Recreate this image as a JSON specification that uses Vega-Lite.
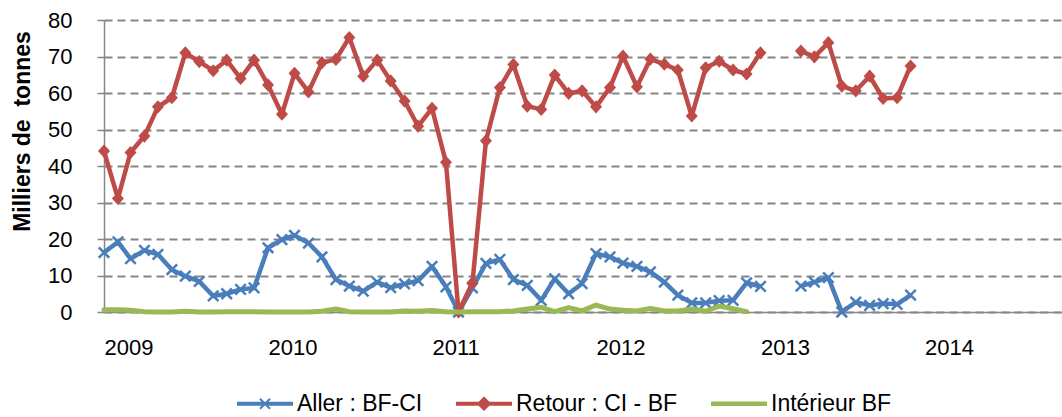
{
  "$schema": "https://vega.github.io/schema/vega-lite/v6.json",
  "autosize": {"type": "none"},
  "width": 958,
  "height": 292,
  "padding": {"left": 104, "top": 20, "right": 0, "bottom": 105},
  "background": "white",
  "config": {
    "view": {"stroke": null},
    "font": "Liberation Sans"
  },
  "data": {
    "values": [
      {"m": "2009-01-01", "A": 16.3, "R": 44.1, "I": 0.6},
      {"m": "2009-02-01", "A": 19.2, "R": 31.1, "I": 0.6},
      {"m": "2009-03-01", "A": 14.6, "R": 43.7, "I": 0.5},
      {"m": "2009-04-01", "A": 16.9, "R": 48.2, "I": 0.1},
      {"m": "2009-05-01", "A": 15.8, "R": 56.2, "I": 0},
      {"m": "2009-06-01", "A": 11.6, "R": 58.7, "I": 0},
      {"m": "2009-07-01", "A": 9.8, "R": 71.0, "I": 0.2},
      {"m": "2009-08-01", "A": 8.4, "R": 68.6, "I": 0},
      {"m": "2009-09-01", "A": 4.4, "R": 66.1, "I": 0},
      {"m": "2009-10-01", "A": 5.0, "R": 69.0, "I": 0.1},
      {"m": "2009-11-01", "A": 6.2, "R": 64.0, "I": 0.1},
      {"m": "2009-12-01", "A": 6.6, "R": 69.0, "I": 0.1},
      {"m": "2010-01-01", "A": 17.6, "R": 62.2, "I": 0},
      {"m": "2010-02-01", "A": 19.8, "R": 54.2, "I": 0},
      {"m": "2010-03-01", "A": 21.0, "R": 65.4, "I": 0},
      {"m": "2010-04-01", "A": 18.9, "R": 60.3, "I": 0},
      {"m": "2010-05-01", "A": 15.1, "R": 68.3, "I": 0.2},
      {"m": "2010-06-01", "A": 8.9, "R": 69.2, "I": 0.8},
      {"m": "2010-07-01", "A": 7.1, "R": 75.2, "I": 0.1},
      {"m": "2010-08-01", "A": 5.7, "R": 64.6, "I": 0},
      {"m": "2010-09-01", "A": 8.2, "R": 69.0, "I": 0},
      {"m": "2010-10-01", "A": 6.7, "R": 63.3, "I": 0},
      {"m": "2010-11-01", "A": 7.7, "R": 57.8, "I": 0.3},
      {"m": "2010-12-01", "A": 8.6, "R": 50.9, "I": 0.2},
      {"m": "2011-01-01", "A": 12.5, "R": 55.8, "I": 0.4},
      {"m": "2011-02-01", "A": 6.9, "R": 41.0, "I": 0.1},
      {"m": "2011-03-01", "A": 0, "R": 0, "I": 0},
      {"m": "2011-04-01", "A": 6.6, "R": 8.0, "I": 0.1},
      {"m": "2011-05-01", "A": 13.3, "R": 46.9, "I": 0.1},
      {"m": "2011-06-01", "A": 14.4, "R": 61.5, "I": 0.1},
      {"m": "2011-07-01", "A": 8.9, "R": 67.8, "I": 0.3},
      {"m": "2011-08-01", "A": 7.3, "R": 56.4, "I": 0.8},
      {"m": "2011-09-01", "A": 3.2, "R": 55.5, "I": 1.3},
      {"m": "2011-10-01", "A": 9.1, "R": 64.9, "I": 0.1},
      {"m": "2011-11-01", "A": 5.0, "R": 59.9, "I": 1.2},
      {"m": "2011-12-01", "A": 7.8, "R": 60.6, "I": 0.3},
      {"m": "2012-01-01", "A": 16.0, "R": 56.2, "I": 1.9},
      {"m": "2012-02-01", "A": 15.1, "R": 61.5, "I": 0.8},
      {"m": "2012-03-01", "A": 13.4, "R": 70.1, "I": 0.5},
      {"m": "2012-04-01", "A": 12.5, "R": 61.7, "I": 0.3},
      {"m": "2012-05-01", "A": 11.0, "R": 69.3, "I": 1.0},
      {"m": "2012-06-01", "A": 8.2, "R": 67.9, "I": 0.3},
      {"m": "2012-07-01", "A": 4.6, "R": 66.3, "I": 0.3},
      {"m": "2012-08-01", "A": 2.5, "R": 53.7, "I": 0.8},
      {"m": "2012-09-01", "A": 2.5, "R": 66.9, "I": 0.2},
      {"m": "2012-10-01", "A": 3.1, "R": 68.7, "I": 1.6},
      {"m": "2012-11-01", "A": 3.2, "R": 66.3, "I": 0.9},
      {"m": "2012-12-01", "A": 8.0, "R": 65.2, "I": 0.1},
      {"m": "2013-01-01", "A": 7.0, "R": 71.0, "I": null},
      {"m": "2013-02-01", "A": null, "R": null, "I": null},
      {"m": "2013-03-01", "A": null, "R": null, "I": null},
      {"m": "2013-04-01", "A": 7.1, "R": 71.5, "I": null},
      {"m": "2013-05-01", "A": 8.2, "R": 69.9, "I": null},
      {"m": "2013-06-01", "A": 9.4, "R": 73.8, "I": null},
      {"m": "2013-07-01", "A": 0, "R": 61.9, "I": null},
      {"m": "2013-08-01", "A": 2.7, "R": 60.6, "I": null},
      {"m": "2013-09-01", "A": 1.8, "R": 64.6, "I": null},
      {"m": "2013-10-01", "A": 2.3, "R": 58.5, "I": null},
      {"m": "2013-11-01", "A": 2.1, "R": 58.7, "I": null},
      {"m": "2013-12-01", "A": 4.6, "R": 67.4, "I": null}
    ]
  },
  "transform": [
    {"fold": ["A", "R", "I"], "as": ["series", "value"]}
  ],
  "encoding": {
    "x": {
      "field": "m",
      "type": "temporal",
      "scale": {
        "type": "utc",
        "domain": [
          {"year": 2009, "month": 1, "date": 1, "utc": true},
          {"year": 2014, "month": 11, "date": 3, "utc": true}
        ]
      },
      "axis": {
        "title": null,
        "values": [
          {"year": 2009, "month": 1, "date": 1, "utc": true},
          {"year": 2010, "month": 1, "date": 1, "utc": true},
          {"year": 2011, "month": 1, "date": 1, "utc": true},
          {"year": 2012, "month": 1, "date": 1, "utc": true},
          {"year": 2013, "month": 1, "date": 1, "utc": true},
          {"year": 2014, "month": 1, "date": 1, "utc": true}
        ],
        "format": "%Y",
        "formatType": "utc",
        "grid": false,
        "ticks": false,
        "domainColor": "#868686",
        "domainWidth": 1.5,
        "labelAlign": "left",
        "labelBaseline": "top",
        "labelPadding": 25,
        "labelFont": "Liberation Sans",
        "labelFontSize": 22,
        "labelColor": "#000000",
        "labelOverlap": false,
        "labelFlush": false
      }
    },
    "y": {
      "field": "value",
      "type": "quantitative",
      "scale": {"domain": [0, 80], "nice": false, "zero": true},
      "axis": {
        "title": "Milliers de\u00a0 tonnes",
        "values": [0, 10, 20, 30, 40, 50, 60, 70, 80],
        "grid": true,
        "gridDash": [8, 5],
        "gridColor": "#858585",
        "gridWidth": 2,
        "domainColor": "#868686",
        "domainWidth": 1.5,
        "tickColor": "#868686",
        "tickWidth": 1.5,
        "tickSize": 7,
        "labelFont": "Liberation Sans",
        "labelFontSize": 22,
        "labelColor": "#000000",
        "labelPadding": 25,
        "titleFont": "Liberation Sans",
        "titleFontSize": 23,
        "titleFontWeight": "bold",
        "titleColor": "#000000",
        "titleAngle": 270,
        "titleAlign": "center",
        "titleBaseline": "middle",
        "titleX": -82,
        "titleY": 111
      }
    },
    "color": {
      "field": "series",
      "type": "nominal",
      "scale": {"domain": ["A", "R", "I"], "range": ["#4a7ebb", "#be4b48", "#98b954"]},
      "legend": {
        "orient": "none",
        "legendX": 133,
        "legendY": 369,
        "direction": "horizontal",
        "title": null,
        "values": ["A", "R", "I"],
        "labelFont": "Liberation Sans",
        "labelFontSize": 23,
        "labelColor": "#000000",
        "labelLimit": 300,
        "labelOffset": 31,
        "columnPadding": 30,
        "symbolSize": 729,
        "labelExpr": "datum.value === 'A' ? 'Aller : BF-CI' : datum.value === 'R' ? 'Retour : CI - BF' : 'Intérieur BF'",
        "encode": {
          "symbols": {
            "update": {
              "shape": {"signal": "datum.value === 'A' ? 'M-1,-0.07H3V0.07H-1Z M0.63,-0.37L1.37,0.37M0.63,0.37L1.37,-0.37' : datum.value === 'R' ? 'M-1,-0.07H3V0.07H-1Z M1,-0.44L1.44,0L1,0.44L0.56,0Z' : 'M-1,-0.1H3V0.1H-1Z'"},
              "fill": {"signal": "datum.value === 'A' ? '#4a7ebb' : datum.value === 'R' ? '#be4b48' : '#98b954'"},
              "stroke": {"signal": "datum.value === 'A' ? '#4a7ebb' : datum.value === 'R' ? '#be4b48' : '#98b954'"},
              "strokeWidth": {"value": 2},
              "opacity": {"value": 1},
              "size": {"value": 729}
            }
          }
        }
      }
    }
  },
  "layer": [
    {
      "transform": [{"filter": "datum.series === 'A'"}],
      "mark": {"type": "line", "strokeWidth": 4.5, "strokeJoin": "round", "invalid": "break-paths-show-domains"}
    },
    {
      "transform": [{"filter": "datum.series === 'A' && datum.value != null"}],
      "mark": {"type": "point", "shape": "M-1,-1L1,1M-1,1L1,-1", "filled": false, "size": 110, "strokeWidth": 2.5, "opacity": 1}
    },
    {
      "transform": [{"filter": "datum.series === 'R'"}],
      "mark": {"type": "line", "strokeWidth": 4.5, "strokeJoin": "round", "invalid": "break-paths-show-domains"}
    },
    {
      "transform": [{"filter": "datum.series === 'R' && datum.value != null"}],
      "mark": {"type": "point", "shape": "M0,-1.1L1,0L0,1.1L-1,0Z", "filled": true, "size": 144, "opacity": 1}
    },
    {
      "transform": [{"filter": "datum.series === 'I'"}],
      "mark": {"type": "line", "strokeWidth": 5, "strokeJoin": "round", "strokeCap": "round", "invalid": "break-paths-show-domains"}
    }
  ]
}
